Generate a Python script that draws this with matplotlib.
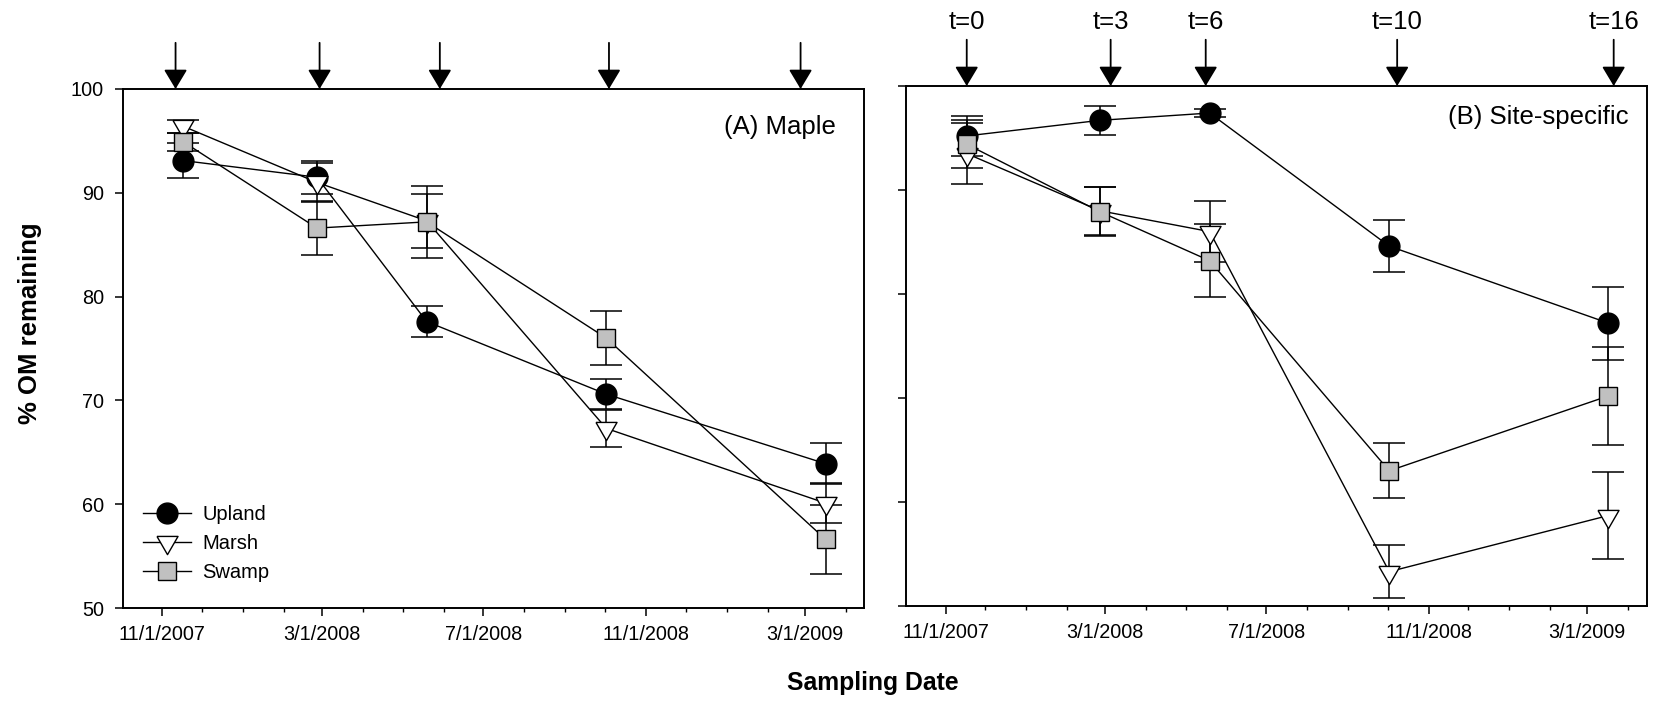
import numpy as np
import matplotlib
matplotlib.use('Agg')
import matplotlib.pyplot as plt
import matplotlib.dates as mdates
from matplotlib.lines import Line2D

plt.rcParams['font.family'] = ['Liberation Sans', 'DejaVu Sans']

# sampling dates (same for both panels)
sample_dates = np.array(['2007-11-17', '2008-02-26', '2008-05-19', '2008-10-02', '2009-03-17'],
                        dtype='datetime64[D]')

# (A) maple litter
maple_upland = [93.1, 91.5, 77.6, 70.6, 63.9]
maple_upland_err = [1.7, 1.6, 1.5, 1.45, 1.95]
maple_marsh = [96.4, 91.0, 87.3, 67.3, 60.1]
maple_marsh_err = [0.6, 1.9, 2.6, 1.8, 1.9]
maple_swamp = [94.9, 86.6, 87.2, 76.0, 56.6]
maple_swamp_err = [0.9, 2.6, 3.5, 2.6, 3.35]

# (B) site-specific litter
site_upland = [95.2, 96.7, 97.4, 84.6, 77.2]
site_upland_err = [1.9, 1.4, 0.4, 2.5, 3.5]
site_marsh = [93.5, 88.0, 86.0, 53.3, 58.7]
site_marsh_err = [2.9, 2.3, 2.9, 2.55, 4.15]
site_swamp = [94.4, 87.9, 83.2, 63.0, 70.2]
site_swamp_err = [2.3, 2.35, 3.5, 2.65, 4.7]

maple_arrow_dates = np.array(['2007-11-11', '2008-02-28', '2008-05-29', '2008-10-04', '2009-02-26'],
                             dtype='datetime64[D]')
site_arrow_dates = np.array(['2007-11-17', '2008-03-05', '2008-05-16', '2008-10-08', '2009-03-21'],
                            dtype='datetime64[D]')
arrow_labels = ['t=0', 't=3', 't=6', 't=10', 't=16']

tick_dates = np.array(['2007-11-01', '2008-03-01', '2008-07-01', '2008-11-01', '2009-03-01'],
                      dtype='datetime64[D]')
tick_labels = ['11/1/2007', '3/1/2008', '7/1/2008', '11/1/2008', '3/1/2009']
x_range = np.array(['2007-10-02', '2009-04-15'], dtype='datetime64[D]')

series_names = ['Upland', 'Marsh', 'Swamp']

# downward equilateral triangle centred on its centroid
tri = [(-1.0, 0.577), (1.0, 0.577), (0.0, -1.155), (-1.0, 0.577)]
styles = {
    'Upland': dict(marker='o', markersize=15, markerfacecolor='black'),
    'Marsh': dict(marker=tri, markersize=17.5, markerfacecolor='white'),
    'Swamp': dict(marker='s', markersize=13, markerfacecolor='#c0c0c0'),
}

W, H = 1661, 701
fig = plt.figure(figsize=(W / 100, H / 100), dpi=100)
ax_a = fig.add_axes([122.7 / W, 1 - 608 / H, 741.3 / W, 519 / H])
ax_b = fig.add_axes([906 / W, 1 - 606 / H, 740.7 / W, 520 / H])


def draw_panel(ax, data, arrow_dates, title, title_xy, show_ylabels, arrow_text):
    for name in series_names:
        vals, errs = data[name]
        ax.errorbar(sample_dates, vals, yerr=errs, fmt='none', ecolor='black',
                    elinewidth=1.1, capsize=11.5, capthick=1.1, zorder=2)
    for i, name in enumerate(series_names):
        vals, errs = data[name]
        ax.plot(sample_dates, vals, color='black', lw=1.0, markeredgecolor='black',
                markeredgewidth=1.0, zorder=3 + i, **styles[name])

    ax.set_xlim(x_range[0], x_range[1])
    ax.set_ylim(50, 100)
    ax.set_yticks(np.arange(50, 101, 10))
    if not show_ylabels:
        ax.set_yticklabels([])
    ax.xaxis.set_major_locator(matplotlib.ticker.FixedLocator(mdates.date2num(tick_dates)))
    ax.xaxis.set_major_formatter(matplotlib.ticker.FixedFormatter(tick_labels))
    ax.xaxis.set_minor_locator(mdates.MonthLocator())
    ax.tick_params(axis='both', which='major', direction='out', length=6, width=1.1,
                   labelsize=14.3, pad=6.5)
    ax.tick_params(axis='y', pad=7.5)
    ax.tick_params(axis='x', which='minor', direction='out', length=3, width=1.0)
    for sp in ax.spines.values():
        sp.set_linewidth(1.4)

    ax.text(title_xy[0], title_xy[1], title, transform=ax.transAxes, ha='right',
            va='center', fontsize=18.5)

    for j, d in enumerate(arrow_dates):
        ax.annotate('', xy=(d, 1.0), xytext=(d, 1.089),
                    xycoords=('data', 'axes fraction'), textcoords=('data', 'axes fraction'),
                    arrowprops=dict(arrowstyle='-|>,head_length=0.6,head_width=0.36',
                                    color='black', lw=1.3, mutation_scale=20,
                                    shrinkA=0, shrinkB=0),
                    annotation_clip=False)
        if arrow_text:
            ax.text(d, 1.123, arrow_labels[j], transform=ax.get_xaxis_transform(),
                    ha='center', va='center', fontsize=18.5, clip_on=False)


draw_panel(ax_a,
           {'Upland': (maple_upland, maple_upland_err),
            'Marsh': (maple_marsh, maple_marsh_err),
            'Swamp': (maple_swamp, maple_swamp_err)},
           maple_arrow_dates, '(A) Maple', (0.962, 0.927), True, False)
draw_panel(ax_b,
           {'Upland': (site_upland, site_upland_err),
            'Marsh': (site_marsh, site_marsh_err),
            'Swamp': (site_swamp, site_swamp_err)},
           site_arrow_dates, '(B) Site-specific', (0.975, 0.94), False, True)

handles = [Line2D([], [], color='black', lw=1.0, markeredgecolor='black',
                  markeredgewidth=1.0, **styles[n]) for n in series_names]
ax_a.legend(handles, series_names, loc='lower left', bbox_to_anchor=(0.027, 0.05),
            frameon=False, fontsize=14.5, handlelength=2.4, handletextpad=0.55,
            labelspacing=0.5, borderpad=0, borderaxespad=0)

fig.text(30 / W, 1 - 323 / H, '% OM remaining', rotation=90, ha='center', va='center',
         fontsize=18.5, fontweight='bold')
fig.text(873 / W, 1 - 683 / H, 'Sampling Date', ha='center', va='center',
         fontsize=17.8, fontweight='bold')

fig.savefig('out.png', dpi=100)
